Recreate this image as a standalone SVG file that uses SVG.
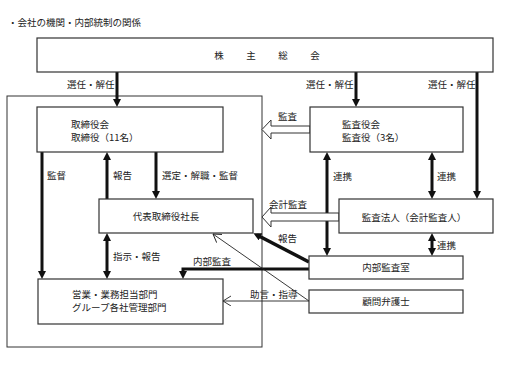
<svg xmlns="http://www.w3.org/2000/svg" width="528" height="370" viewBox="0 0 528 370">
<style>
text{font-family:"Noto Sans CJK JP","Noto Sans",sans-serif;font-size:9.5px;fill:#222;}
.box{fill:#fff;stroke:#333;stroke-width:1.2;}
.outer{fill:none;stroke:#333;stroke-width:1;}
.thick{stroke:#111;stroke-width:3;fill:none;}
.thin{stroke:#222;stroke-width:0.9;fill:none;}
.hollow{fill:#fff;stroke:#333;stroke-width:1;}
.c{text-anchor:middle;}
</style>
<defs>
<marker id="ah" markerUnits="userSpaceOnUse" markerWidth="9" markerHeight="9" refX="4" refY="4" orient="auto-start-reverse">
<path d="M0,0 L8,4 L0,8 z" fill="#111"/>
</marker>
<marker id="oh" markerUnits="userSpaceOnUse" markerWidth="10" markerHeight="12" refX="8" refY="5" orient="auto">
<path d="M0,0 L8,5 L0,10" fill="none" stroke="#222" stroke-width="0.9"/>
</marker>
</defs>
<rect width="528" height="370" fill="#fff"/>
<text x="8" y="26">・会社の機関・内部統制の関係</text>
<rect class="outer" x="7" y="96" width="255" height="251"/>
<g id="connectors">
<line class="thick" x1="117" y1="72" x2="117" y2="103" marker-end="url(#ah)"/>
<line class="thick" x1="356" y1="72" x2="356" y2="103" marker-end="url(#ah)"/>
<line class="thick" x1="477" y1="72" x2="477" y2="195" marker-end="url(#ah)"/>
<line class="thick" x1="42" y1="152" x2="42" y2="275" marker-end="url(#ah)"/>
<line class="thick" x1="107" y1="199" x2="107" y2="156" marker-end="url(#ah)"/>
<line class="thick" x1="156" y1="152" x2="156" y2="195" marker-end="url(#ah)"/>
<line class="thick" x1="107" y1="237" x2="107" y2="275" marker-start="url(#ah)" marker-end="url(#ah)"/>
<line class="thick" x1="327" y1="156" x2="327" y2="252" marker-start="url(#ah)" marker-end="url(#ah)"/>
<line class="thick" x1="432" y1="156" x2="432" y2="195" marker-start="url(#ah)" marker-end="url(#ah)"/>
<line class="thick" x1="432" y1="237" x2="432" y2="252" marker-start="url(#ah)" marker-end="url(#ah)"/>
<line class="thick" x1="309" y1="262" x2="257" y2="235" style="stroke-width:3.5" marker-end="url(#ah)"/>
<polyline class="thick" points="309,269 183,269 183,275" marker-end="url(#ah)"/>
<line class="thin" x1="309" y1="301" x2="213" y2="234" marker-end="url(#oh)"/>
<line class="thin" x1="309" y1="301" x2="223" y2="301" marker-end="url(#oh)"/>
<polygon class="hollow" points="310,126 271,126 271,120 262,129.5 271,139 271,133 310,133"/>
<polygon class="hollow" points="339,213 271,213 271,207 262,217 271,227 271,221 339,221"/>
<text x="67" y="88">選任・解任</text>
<text x="306" y="88">選任・解任</text>
<text x="428" y="88">選任・解任</text>
<text x="47" y="179">監督</text>
<text x="113" y="179">報告</text>
<text x="162" y="179">選定・解職・監督</text>
<text x="113" y="260">指示・報告</text>
<text x="278" y="120">監査</text>
<text x="269" y="208">会計監査</text>
<text x="278" y="242">報告</text>
<text x="193" y="265">内部監査</text>
<text x="250" y="298">助言・指導</text>
<text x="333" y="180">連携</text>
<text x="437" y="180">連携</text>
<text x="437" y="249">連携</text>
</g>
<g id="shareholders">
<rect class="box" x="37" y="38" width="456" height="34"/>
<text x="219" y="59" class="c">株</text>
<text x="251" y="59" class="c">主</text>
<text x="283" y="59" class="c">総</text>
<text x="315" y="59" class="c">会</text>
</g>
<g id="board">
<rect class="box" x="37" y="107" width="186" height="45"/>
<text x="71" y="128">取締役会</text>
<text x="71" y="141">取締役（11名）</text>
</g>
<g id="auditors">
<rect class="box" x="310" y="107" width="153" height="45"/>
<text x="342" y="128">監査役会</text>
<text x="342" y="141">監査役（3名）</text>
</g>
<g id="president">
<rect class="box" x="99" y="199" width="154" height="34"/>
<text x="166" y="220" class="c">代表取締役社長</text>
</g>
<g id="audit-firm">
<rect class="box" x="339" y="199" width="154" height="34"/>
<text x="414" y="221" class="c">監査法人（会計監査人）</text>
</g>
<g id="internal-audit">
<rect class="box" x="309" y="256" width="154" height="23"/>
<text x="386" y="271" class="c">内部監査室</text>
</g>
<g id="lawyer">
<rect class="box" x="309" y="290" width="154" height="23"/>
<text x="386" y="305" class="c">顧問弁護士</text>
</g>
<g id="departments">
<rect class="box" x="38" y="279" width="185" height="45"/>
<text x="72" y="298">営業・業務担当部門</text>
<text x="72" y="311">グループ各社管理部門</text>
</g>
</svg>
